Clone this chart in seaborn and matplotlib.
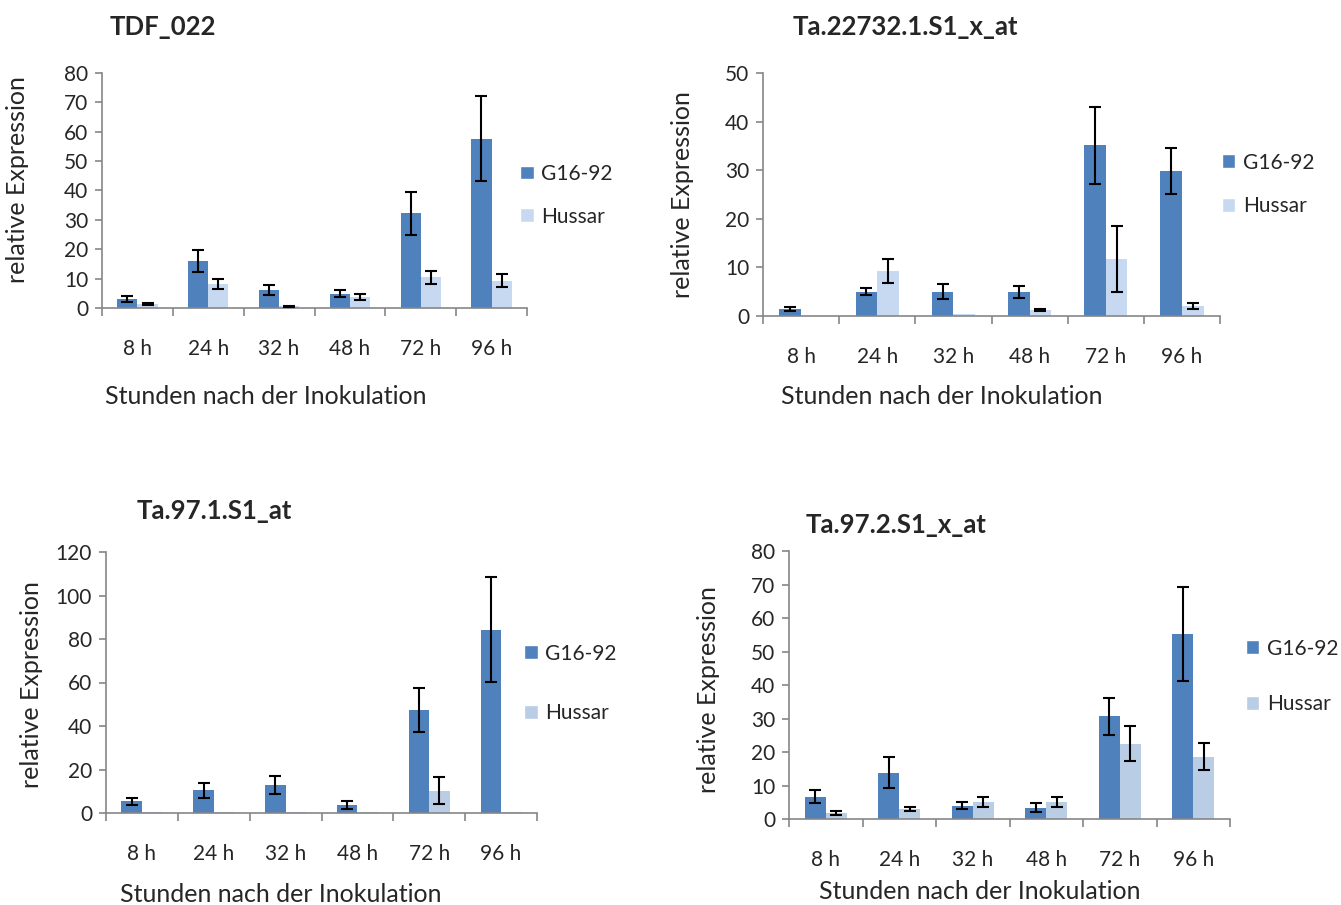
import numpy as np
import pandas as pd
import matplotlib
matplotlib.use("Agg")
import matplotlib.pyplot as plt
from matplotlib.patches import Patch
import seaborn as sns

# ---------------- data ----------------
times = ["8 h", "24 h", "32 h", "48 h", "72 h", "96 h"]
lines = ["G16-92", "Hussar"]

titles = ["TDF_022", "Ta.22732.1.S1_x_at", "Ta.97.1.S1_at", "Ta.97.2.S1_x_at"]

tdf_g16 = [3.2, 16.1, 6.1, 4.9, 32.2, 57.7]
tdf_g16_err = [1.0, 3.7, 1.8, 1.3, 7.2, 14.6]
tdf_hus = [1.3, 8.1, 0.6, 3.6, 10.4, 9.3]
tdf_hus_err = [0.3, 1.7, 0.2, 1.0, 2.3, 2.2]

t227_g16 = [1.5, 5.0, 5.0, 5.0, 35.1, 29.8]
t227_g16_err = [0.4, 0.7, 1.5, 1.2, 8.0, 4.7]
t227_hus = [0.0, 9.2, 0.4, 1.2, 11.7, 2.0]
t227_hus_err = [np.nan, 2.5, np.nan, 0.2, 6.8, 0.6]

t971_g16 = [5.4, 10.4, 12.9, 3.7, 47.4, 84.3]
t971_g16_err = [1.7, 3.4, 4.2, 1.8, 10.1, 24.0]
t971_hus = [0.3, 0.3, 0.3, 0.3, 10.3, 0.3]
t971_hus_err = [np.nan, np.nan, np.nan, np.nan, 6.3, np.nan]

t972_g16 = [6.7, 13.8, 4.0, 3.4, 30.7, 55.2]
t972_g16_err = [2.0, 4.6, 1.1, 1.4, 5.5, 14.0]
t972_hus = [1.8, 2.9, 5.1, 5.1, 22.5, 18.6]
t972_hus_err = [0.6, 0.6, 1.4, 1.4, 5.3, 4.0]

ymax = [80, 50, 120, 80]
ystep = [10, 10, 20, 10]

panels = [
    (tdf_g16, tdf_g16_err, tdf_hus, tdf_hus_err),
    (t227_g16, t227_g16_err, t227_hus, t227_hus_err),
    (t971_g16, t971_g16_err, t971_hus, t971_hus_err),
    (t972_g16, t972_g16_err, t972_hus, t972_hus_err),
]

# ---------------- style ----------------
sns.set_style("ticks")
plt.rcParams["font.family"] = ["Lato", "DejaVu Sans"]

dark = "#4F81BD"
lights = ["#C6D9F1", "#C6D9F1", "#B9CDE5", "#B9CDE5"]
spine_col = "#868686"

W, H = 1341, 905
fig = plt.figure(figsize=(W / 100, H / 100), dpi=100)

# axes boxes in pixels: left, right, top, bottom
boxes = [(102, 527, 73, 308), (763, 1220, 73, 316), (106, 537, 552, 813), (789, 1230, 551, 819)]
legend_pos = [(0.984, 0.48, 44), (1.004, 0.541, 45), (0.97, 0.496, 61), (1.036, 0.532, 57)]
title_pos = [(110, 27, "left"), (905, 27, "center"), (137, 511, "left"), (806, 525, "left")]
ylab_pos = [(18, 180), (682, 195), (32, 685), (708, 690)]
xlab_pos = [(266, 396), (942, 396), (281, 894), (980, 891)]

for i, (g, ge, h, he) in enumerate(panels):
    l, r, t, b = boxes[i]
    ax = fig.add_axes([l / W, 1 - b / H, (r - l) / W, (b - t) / H])
    df = pd.DataFrame({
        "time": times * 2,
        "line": [lines[0]] * 6 + [lines[1]] * 6,
        "value": list(g) + list(h),
    })
    sns.barplot(data=df, x="time", y="value", hue="line", order=times, hue_order=lines,
                palette=[dark, lights[i]], width=0.57, errorbar=None, saturation=1,
                legend=False, ax=ax, linewidth=0)
    errs = [ge, he]
    for cont, err in zip(ax.containers, errs):
        xs = [p.get_x() + p.get_width() / 2 for p in cont.patches]
        ys = [p.get_height() for p in cont.patches]
        ax.errorbar(xs, ys, yerr=err, fmt="none", ecolor="black", elinewidth=1.5,
                    capsize=4, capthick=1.5, zorder=5)
    ax.set_xlim(-0.5, 5.5)
    ax.set_ylim(0, ymax[i])
    ax.set_yticks(np.arange(0, ymax[i] + 1, ystep[i]))
    ax.set_xticks(np.arange(-0.5, 6, 1), minor=True)
    ax.tick_params(axis="x", which="major", length=0, pad=22, labelsize=15)
    ax.tick_params(axis="x", which="minor", length=6, width=1.2, color=spine_col)
    ax.tick_params(axis="y", length=5, width=1.2, color=spine_col, labelsize=15, pad=5)
    for s in ["top", "right"]:
        ax.spines[s].set_visible(False)
    for s in ["left", "bottom"]:
        ax.spines[s].set_color(spine_col)
        ax.spines[s].set_linewidth(1.2)
    ax.set_xlabel("")
    ax.set_ylabel("")

    lx, ly, sp = legend_pos[i]
    handles = [Patch(facecolor=dark, label=lines[0]), Patch(facecolor=lights[i], label=lines[1])]
    ax.legend(handles=handles, loc="center left", bbox_to_anchor=(lx, ly), frameon=False,
              fontsize=15, handlelength=0.65, handleheight=0.65, handletextpad=0.35,
              borderpad=0, borderaxespad=0, labelspacing=(sp - 21) / 21)

    tx, ty, ha = title_pos[i]
    fig.text(tx / W, 1 - ty / H, titles[i], ha=ha, va="center", fontsize=18.5, fontweight="bold")
    yx, yy = ylab_pos[i]
    fig.text(yx / W, 1 - yy / H, "relative Expression", rotation=90, ha="center", va="center", fontsize=18)
    xx, xy = xlab_pos[i]
    fig.text(xx / W, 1 - xy / H, "Stunden nach der Inokulation", ha="center", va="center", fontsize=18)

fig.savefig("out.png", dpi=100)
